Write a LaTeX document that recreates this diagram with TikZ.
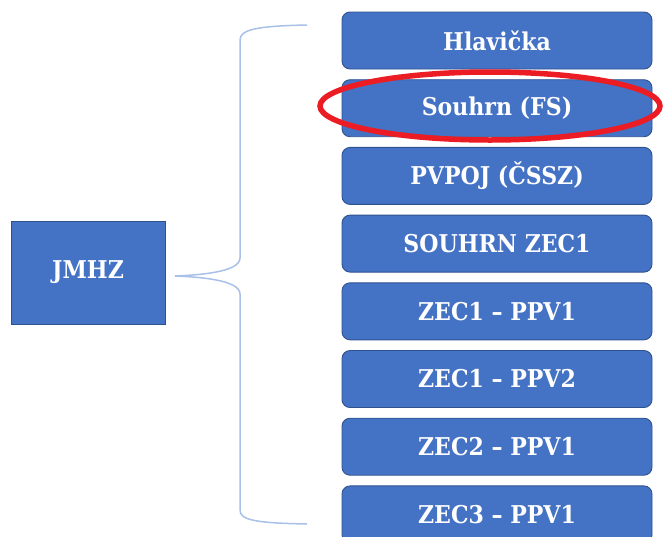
\documentclass[tikz,border=0pt]{standalone}
\usepackage{fontspec}
\usetikzlibrary{shapes.geometric}
\setmainfont{DejaVu Serif Condensed}
\definecolor{boxfill}{HTML}{4472C4}
\definecolor{boxline}{HTML}{2F528F}
\definecolor{bracecol}{HTML}{A9C0E8}
\definecolor{ringred}{HTML}{EC1C24}
\begin{document}
\begin{tikzpicture}[x=1pt,y=-1pt,
  itembox/.style={draw=boxline, line width=0.9pt, fill=boxfill, rounded corners=8pt,
    minimum width=310pt, minimum height=57pt, inner sep=0pt, text=white,
    font=\fontsize{24.5}{28}\selectfont\bfseries},
  mainbox/.style={draw=boxline, line width=0.9pt, fill=boxfill,
    minimum width=154pt, minimum height=103pt, inner sep=0pt, text=white,
    font=\fontsize{24.5}{28}\selectfont\bfseries},
  bracestyle/.style={draw=bracecol, line width=1.5pt},
  ring/.style={draw=ringred, line width=5.5pt}]
\useasboundingbox (0,0) rectangle (663,536);
\node[mainbox] (jmhz) at (88,272.5) {JMHZ};
\node[itembox] (b1) at (497,40.5) {Hlavička};
\node[itembox] (b2) at (497,108.2) {Souhrn (FS)};
\node[itembox] (b3) at (497,175.9) {PVPOJ (ČSSZ)};
\node[itembox] (b4) at (497,243.6) {SOUHRN ZEC1};
\node[itembox] (b5) at (497,311.3) {ZEC1 – PPV1};
\node[itembox] (b6) at (497,379) {ZEC1 – PPV2};
\node[itembox] (b7) at (497,446.7) {ZEC2 – PPV1};
\node[itembox] (b8) at (497,514.4) {ZEC3 – PPV1};
\coordinate (tip) at (175,276);
\coordinate (btop) at (307,25);
\coordinate (bbot) at (307,524);
\draw[bracestyle] (btop) .. controls (255,26) and (240,30) .. (240,40)
  -- (240,258) .. controls (240,272) and (200,275) .. (tip)
  .. controls (200,277) and (240,280) .. (240,294)
  -- (240,510) .. controls (240,520) and (255,523) .. (bbot);
\node[ring, ellipse, minimum width=340pt, minimum height=68pt, inner sep=0pt] (hl) at (490,106) {};
\end{tikzpicture}
\end{document}
